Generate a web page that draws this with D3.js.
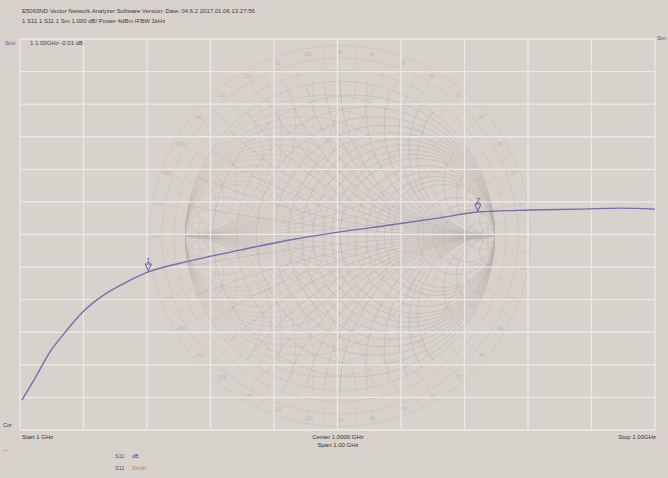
<!DOCTYPE html>
<html>
<head>
<meta charset="utf-8">
<script src="https://cdn.jsdelivr.net/npm/d3@7"></script>
<style>
  body { margin: 0; background: #d8d2cc; }
  svg { display: block; font-family: "Liberation Sans", Arial, sans-serif; }
</style>
</head>
<body>
<svg id="chart" width="668" height="478"></svg>
<script>
// trace, in grid divisions (x: 0..10 left->right, y: 0..12 bottom->top)
const traceX = [0.03, 0.24, 0.47, 0.74, 1.02, 1.34, 1.65, 2.02, 2.68, 3.46, 4.25, 5.04, 5.83, 6.61, 7.21, 8.03, 8.82, 9.45, 10.0];
const traceY = [0.92, 1.60, 2.39, 3.07, 3.68, 4.17, 4.51, 4.85, 5.19, 5.52, 5.83, 6.08, 6.29, 6.51, 6.69, 6.75, 6.78, 6.81, 6.78];
const markerIdx = [7, 14];
const markerNames = ['1', '2'];

// smith chart grid values
const rValues = [0, 0.1, 0.2, 0.3, 0.4, 0.5, 0.6, 0.7, 0.8, 0.9, 1, 1.2, 1.4, 1.6, 1.8, 2, 3, 4, 5, 10, 20];
const xValues = [0.1, 0.2, 0.3, 0.4, 0.5, 0.6, 0.7, 0.8, 0.9, 1, 1.2, 1.4, 1.6, 1.8, 2, 3, 4, 5, 10, 20];
const outerRings = [1.07, 1.15, 1.23];

const headerLines = [
  'E5063ND Vector Network Analyzer Software   Version:   Date: 04.6.2 2017.01.06 13:27:56',
  '1 S11 1  S11 1 Sm   1.000 dB/  Power 4dBm  IFBW 1kHz'
];
const svg = d3.select('#chart');

const x = d3.scaleLinear().domain([0, 10]).range([20, 655]);
const y = d3.scaleLinear().domain([0, 12]).range([430, 39]);

// smith chart (impedance + admittance)
const cx = 340, cy = 236, R = 155;
const gx = d3.scaleLinear().domain([-1, 1]).range([cx - R, cx + R]);
const gy = d3.scaleLinear().domain([-1, 1]).range([cy + R, cy - R]);
const k = R;

svg.append('clipPath').attr('id', 'unit')
  .append('circle').attr('cx', cx).attr('cy', cy).attr('r', R);

const smith = svg.append('g').attr('stroke', '#bbb5af').attr('fill', 'none').attr('stroke-width', 0.6);

smith.selectAll('.ring').data(outerRings).join('circle')
  .attr('cx', cx).attr('cy', cy).attr('r', d => d * k)
  .attr('stroke-opacity', 0.6);
smith.selectAll('.tick').data(d3.range(0, 360, 5)).join('line')
  .attr('x1', d => cx + Math.cos(d * Math.PI / 180) * k)
  .attr('y1', d => cy - Math.sin(d * Math.PI / 180) * k)
  .attr('x2', d => cx + Math.cos(d * Math.PI / 180) * k * 1.23)
  .attr('y2', d => cy - Math.sin(d * Math.PI / 180) * k * 1.23)
  .attr('stroke-opacity', 0.4);
smith.selectAll('.tlabel').data(d3.range(0, 360, 10)).join('text')
  .attr('x', d => cx + Math.cos(d * Math.PI / 180) * k * 1.19)
  .attr('y', d => cy - Math.sin(d * Math.PI / 180) * k * 1.19 + 2)
  .attr('text-anchor', 'middle').attr('font-size', 5).attr('fill', '#bdb7b1').attr('stroke', 'none')
  .text(d => d <= 180 ? d : d - 360);

function drawFamily(g, sign, opacity) {
  const e = sign; // +1 impedance, -1 admittance (mirrored)
  g.selectAll(null).data(rValues).join('circle')
    .attr('cx', d => gx(e * d / (1 + d))).attr('cy', cy)
    .attr('r', d => k / (1 + d)).attr('stroke-opacity', opacity);
  g.selectAll(null).data(xValues).join('circle')
    .attr('cx', gx(e)).attr('cy', d => gy(1 / d)).attr('r', d => k / d).attr('stroke-opacity', opacity);
  g.selectAll(null).data(xValues).join('circle')
    .attr('cx', gx(e)).attr('cy', d => gy(-1 / d)).attr('r', d => k / d).attr('stroke-opacity', opacity);
}
const inner = smith.append('g').attr('clip-path', 'url(#unit)');
drawFamily(inner.append('g'), -1, 0.55);
drawFamily(inner.append('g'), 1, 0.9);
inner.append('line').attr('x1', gx(-1)).attr('x2', gx(1)).attr('y1', cy).attr('y2', cy);

// rectangular grid
const grid = svg.append('g').attr('stroke', '#ece8e3').attr('stroke-width', 1.3);
grid.selectAll('.v').data(d3.range(0, 11)).join('line')
  .attr('x1', d => x(d)).attr('x2', d => x(d)).attr('y1', y(12)).attr('y2', y(0));
grid.selectAll('.h').data(d3.range(0, 13)).join('line')
  .attr('x1', x(0)).attr('x2', x(10)).attr('y1', d => y(d)).attr('y2', d => y(d));

// trace
const pts = traceX.map((d, i) => [d, traceY[i]]);
const line = d3.line().x(d => x(d[0])).y(d => y(d[1])).curve(d3.curveMonotoneX);
svg.append('path').datum(pts).attr('d', line)
  .attr('fill', 'none').attr('stroke', '#7070ac').attr('stroke-width', 1.4);

const mk = svg.append('g');
markerIdx.forEach((idx, i) => {
  const px = x(traceX[idx]), py = y(traceY[idx]);
  mk.append('path')
    .attr('d', `M${px - 3},${py - 8}L${px + 3},${py - 8}L${px},${py - 1}Z`)
    .attr('fill', 'none').attr('stroke', '#5a5a9a').attr('stroke-width', 1);
  mk.append('text').attr('x', px).attr('y', py - 9).attr('text-anchor', 'middle')
    .attr('font-size', 7).attr('fill', '#4a4a86').text(markerNames[i]);
});

// text
svg.selectAll('.hdr').data(headerLines).join('text')
  .attr('x', 22).attr('y', (d, i) => 13 + i * 10)
  .attr('font-size', 6).attr('fill', '#3a3a3a').text(d => d);

svg.append('text').attr('x', 5).attr('y', 45).attr('font-size', 6).attr('fill', '#5050a0').text('Smi');
svg.append('text').attr('x', 30).attr('y', 45).attr('font-size', 6).attr('fill', '#444').text('1   1.00GHz    -0.01 dB');
svg.append('text').attr('x', 657).attr('y', 40).attr('font-size', 6).attr('fill', '#5050a0').text('Sm');

svg.append('text').attr('x', 3).attr('y', 427).attr('font-size', 5.5).attr('fill', '#444').text('Cor');
svg.append('text').attr('x', 3).attr('y', 451).attr('font-size', 5.5).attr('fill', '#444').text('...');
svg.append('text').attr('x', 22).attr('y', 439).attr('font-size', 6).attr('fill', '#333').text('Start 1 GHz');
svg.append('text').attr('x', 338).attr('y', 439).attr('font-size', 6).attr('fill', '#333').attr('text-anchor', 'middle').text('Center 1.0000 GHz');
svg.append('text').attr('x', 338).attr('y', 447).attr('font-size', 6).attr('fill', '#333').attr('text-anchor', 'middle').text('Span 1.00 GHz');
svg.append('text').attr('x', 656).attr('y', 439).attr('font-size', 6).attr('fill', '#333').attr('text-anchor', 'end').text('Stop 1.00GHz');

svg.append('text').attr('x', 115).attr('y', 458).attr('font-size', 5.5).attr('fill', '#555').text('S11');
svg.append('text').attr('x', 132).attr('y', 458).attr('font-size', 5.5).attr('fill', '#4848a0').text('dB');
svg.append('text').attr('x', 115).attr('y', 470).attr('font-size', 5.5).attr('fill', '#555').text('S11');
svg.append('text').attr('x', 132).attr('y', 470).attr('font-size', 5.5).attr('fill', '#d07030').text('Smith');
</script>
</body>
</html>
